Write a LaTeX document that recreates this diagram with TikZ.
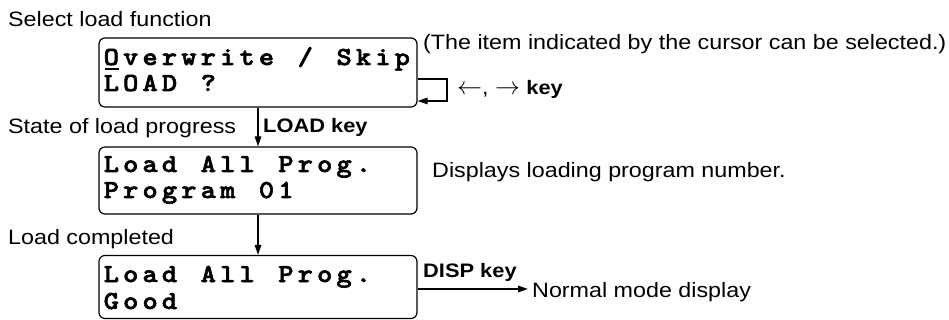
\documentclass[tikz,border=0pt]{standalone}
\usepackage{fontspec}
\setmainfont{Liberation Sans}[FakeStretch=1.12]
\newfontfamily\lcdfont{lmmonolt10-bold}[Extension=.otf, FakeStretch=1.12, FakeBold=2.2]
\usetikzlibrary{arrows.meta}
\ExplSyntaxOn
\NewDocumentCommand\lcdline{m}{\str_map_inline:nn {#1} {\makebox[19.4pt][l]{##1}}}
\ExplSyntaxOff
\begin{document}
\begin{tikzpicture}[x=1pt,y=-1pt,
  lcdbox/.style={draw, line width=1.2pt, rounded corners=6pt, minimum width=318pt, inner sep=0pt},
  lcdtext/.style={anchor=base west, inner sep=0pt, font=\lcdfont\fontsize{26}{28}\selectfont},
  lbl/.style={anchor=base west, inner sep=0pt, font=\fontsize{20.8}{22}\selectfont},
  keylbl/.style={anchor=base west, inner sep=0pt, font=\bfseries\fontsize{19.5}{22}\selectfont},
  conn/.style={line width=1.4pt, -{Triangle[length=10pt,width=6.5pt]}},
  loopline/.style={line width=1.4pt}]
\useasboundingbox (0,0) rectangle (949,320);
% boxes
\node[lcdbox, minimum height=69pt] (b1) at (258,72.5) {};
\node[lcdbox, minimum height=67pt] (b2) at (258,180.5) {};
\node[lcdbox, minimum height=63pt] (b3) at (258,287) {};
% box texts
\node[lcdtext] (t11) at (103.5,65) {\lcdline{Overwrite / Skip}};
\node[lcdtext] (t12) at (103.5,91) {\lcdline{LOAD ?}};
\node[lcdtext] (t21) at (103.5,172) {\lcdline{Load All Prog.}};
\node[lcdtext] (t22) at (103.5,198) {\lcdline{Program 01}};
\node[lcdtext] (t31) at (103.5,282) {\lcdline{Load All Prog.}};
\node[lcdtext] (t32) at (103.5,309) {\lcdline{Good}};
% cursor
\draw[line width=2pt] (105,69.5) -- (119,69.5);
% labels
\node[lbl] (l1) at (8,27) {Select load function};
\node[lbl] (l2) at (8,134) {State of load progress};
\node[lbl] (l3) at (8,244) {Load completed};
\node[lbl] (n1) at (423,50) {(The item indicated by the cursor can be selected.)};
\node[lbl] (n2) at (432,178) {Displays loading program number.};
\node[lbl] (n3) at (532,297) {Normal mode display};
\node[lbl] (arr) at (457,95) {{\fontsize{24}{26}\selectfont$\leftarrow$}, {\fontsize{24}{26}\selectfont$\rightarrow$} \textbf{\fontsize{19.5}{22}\selectfont key}};
\node[keylbl] (k1) at (263,133) {LOAD key};
\node[keylbl] (k2) at (423,277) {DISP key};
% connectors
\draw[conn] (b1.south) -- (b2.north);
\draw[conn] (b2.south) -- (b3.north);
\coordinate (lp1) at (447,79);
\coordinate (lp2) at (447,101);
\draw[loopline, -{Triangle[length=10pt,width=6.5pt]}] (b1.east |- lp1) -- (lp1) -- (lp2) -- (b1.east |- lp2);
\coordinate (de) at (528,289);
\draw[conn] (b3.east |- de) -- (de);
\end{tikzpicture}
\end{document}
